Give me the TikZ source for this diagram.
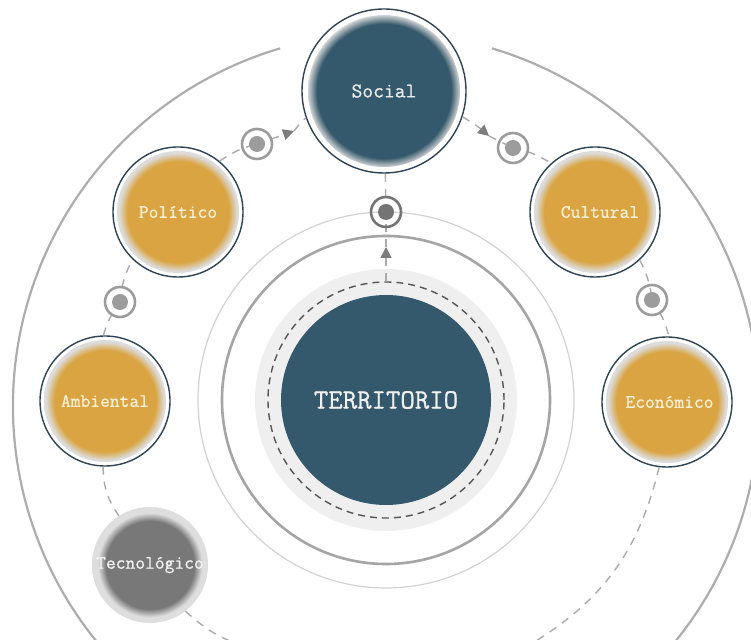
\documentclass[tikz,border=0pt]{standalone}
\usepackage{fontspec}
\newfontfamily\monofam[FakeBold=0.8]{Latin Modern Mono}
\usetikzlibrary{arrows.meta}
\definecolor{navy}{HTML}{35596C}
\definecolor{outl}{HTML}{2E4454}
\definecolor{gold}{HTML}{D9A441}
\definecolor{ringg}{HTML}{DCDCDC}
\definecolor{tecg}{HTML}{787878}
\definecolor{tecring}{HTML}{DEDEDE}
\definecolor{cream}{HTML}{FBF0D6}
\definecolor{conng}{HTML}{ABABAB}
\definecolor{arrg}{HTML}{7C7C7C}
\definecolor{markg}{HTML}{9C9C9C}
\definecolor{markd}{HTML}{747474}
\definecolor{bigg}{HTML}{ADADAD}
\definecolor{medg}{HTML}{A5A5A5}
\definecolor{thing}{HTML}{D2D2D2}
\definecolor{discg}{HTML}{EFEFEF}
\definecolor{dashg}{HTML}{555555}
\pgfdeclareradialshading{goldblur}{\pgfpoint{0bp}{0bp}}{color(0bp)=(gold); color(19.5bp)=(gold); color(22.8bp)=(ringg); color(25bp)=(ringg); color(50bp)=(ringg)}
\pgfdeclareradialshading{navyblur}{\pgfpoint{0bp}{0bp}}{color(0bp)=(navy); color(20.5bp)=(navy); color(23.4bp)=(ringg); color(25bp)=(ringg); color(50bp)=(ringg)}
\pgfdeclareradialshading{tecblur}{\pgfpoint{0bp}{0bp}}{color(0bp)=(tecg); color(19bp)=(tecg); color(22.5bp)=(tecring); color(25bp)=(tecring); color(50bp)=(tecring)}
\tikzset{
  sat/.style={circle, draw=outl, line width=1.4pt, fill=white, minimum size=130pt, inner sep=0pt,
    text=cream, font=\monofam\fontsize{19}{22}\selectfont,
    path picture={\shade[shading=goldblur] (path picture bounding box.center) circle (61pt);}},
  socialnode/.style={circle, draw=outl, line width=1.4pt, fill=white, minimum size=164pt, inner sep=0pt,
    text=white!92!black, font=\monofam\fontsize{21}{24}\selectfont,
    path picture={\shade[shading=navyblur] (path picture bounding box.center) circle (76pt);}},
  tecnode/.style={circle, minimum size=116pt, inner sep=0pt,
    text=white!95!black, font=\monofam\fontsize{19}{22}\selectfont,
    path picture={\shade[shading=tecblur] (path picture bounding box.center) circle (58pt);}},
  terrnode/.style={circle, fill=navy, minimum size=210pt, inner sep=0pt,
    text=white!94!black, font=\monofam\fontsize{28}{32}\selectfont},
  dashring/.style={circle, draw=dashg, line width=1.4pt, dash pattern=on 7pt off 5pt, minimum size=236pt, inner sep=0pt},
  marker/.style={circle, draw=markg, line width=2.6pt, minimum size=30pt, inner sep=0pt,
    path picture={\fill[markg] (path picture bounding box.center) circle (8pt);}},
  markerd/.style={circle, draw=markd, line width=2.6pt, minimum size=30pt, inner sep=0pt,
    path picture={\fill[markd] (path picture bounding box.center) circle (8pt);}},
  conn/.style={draw=conng, line width=1.4pt, dash pattern=on 8pt off 7pt},
  tip/.style={-{Triangle[length=11pt,width=11pt,color=arrg]}}
}
\begin{document}
\begin{tikzpicture}[x=1pt,y=1pt]
\useasboundingbox (0,0) rectangle (751,639);
\clip (0,0) rectangle (751,639);
\fill[white] (0,0) rectangle (751,639);
\coordinate (M) at (386,239);
\coordinate (B) at (386,233);
% big outer arc
\draw[bigg, line width=2.2pt] (B) ++(106.5:373) arc[start angle=106.5, end angle=433.5, radius=373];
% concentric rings
\draw[thing, line width=1.2pt] (M) circle (188);
\draw[medg, line width=2.6pt] (M) circle (164);
\fill[discg] (M) circle (131);
\node[dashring] (ring) at (M) {};
\node[terrnode] (terr) at (M) {TERRITORIO};
% satellites
\node[socialnode] (S) at (384,548) {Social};
\node[sat] (P) at (178,427) {Político};
\node[sat] (Cu) at (595,427) {\hspace*{10pt}Cultural};
\node[sat] (A) at (105,238) {Ambiental};
\node[sat] (E) at (667,237) {\hspace*{5pt}Económico};
\node[tecnode] (T) at (150,74) {Tecnológico};
% marker positions, free ends and arrow points
\coordinate (rPS) at (257,495);
\coordinate (rSC) at (513,491);
\coordinate (rAP) at (120,337);
\coordinate (rCE) at (652,339);
\coordinate (rTS) at (386,427);
\coordinate (aPS) at (294,508);
\coordinate (aSC) at (489,503);
\coordinate (aTS) at (386,392);
\coordinate (eEnd) at (526,-8);
\coordinate (tEnd) at (246,-8);
% connectors
\draw[conn] (A) to[bend left=10] (rAP);
\draw[conn] (rAP) to[bend left=11] (P);
\draw[conn] (P) to[bend left=10] (rPS);
\draw[conn,tip] (rPS) -- (aPS);
\draw[conn] (aPS) to[bend left=5] (S);
\draw[conn,tip] (S) to[bend left=5] (aSC);
\draw[conn] (aSC) -- (rSC);
\draw[conn] (rSC) to[bend left=10] (Cu);
\draw[conn] (Cu) to[bend left=10] (rCE);
\draw[conn] (rCE) to[bend left=10] (E);
\draw[conn] (E) to[bend left=23] (eEnd);
\draw[conn] (A) to[bend right=17] (T);
\draw[conn] (T) to[bend right=12] (tEnd);
\draw[conn,tip] (ring) -- (aTS);
\draw[conn] (aTS) -- (rTS);
\draw[conn] (rTS) -- (S);
% markers
\node[marker] (mPS) at (rPS) {};
\node[marker] (mSC) at (rSC) {};
\node[marker] (mAP) at (rAP) {};
\node[marker] (mCE) at (rCE) {};
\node[markerd] (mTS) at (rTS) {};
\end{tikzpicture}
\end{document}
